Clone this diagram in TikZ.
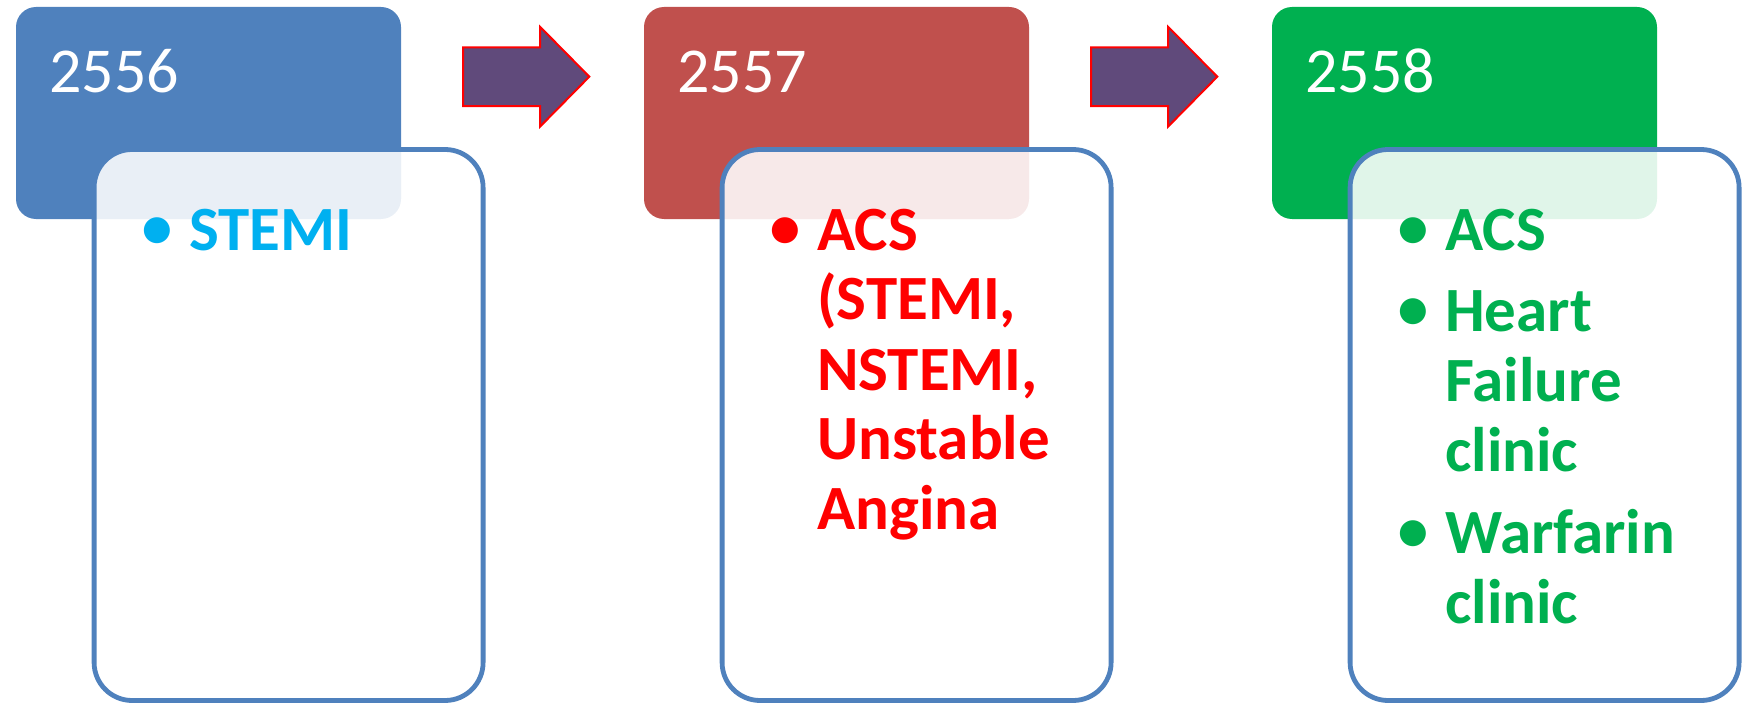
\documentclass[tikz,border=0pt]{standalone}
\usepackage{fontspec}
\setmainfont{Carlito}
\newfontfamily\bulletfont{DejaVu Sans}
\definecolor{hblue}{HTML}{4F81BD}
\definecolor{hred}{HTML}{C0504D}
\definecolor{hgreen}{HTML}{00B050}
\definecolor{arrowfill}{HTML}{604A7B}
\definecolor{tcyan}{HTML}{00B0F0}
\definecolor{tred}{HTML}{FF0000}
\definecolor{tgreen}{HTML}{00B050}
\begin{document}
\begin{tikzpicture}[x=1pt,y=-1pt,
  header/.style={rectangle, rounded corners=20pt, minimum width=385pt, minimum height=212pt, inner sep=0pt},
  panel/.style={rectangle, rounded corners=38pt, draw=hblue, line width=4.8pt, fill=white, fill opacity=0.88, draw opacity=1, minimum width=389pt, minimum height=551pt, inner sep=0pt},
  year/.style={anchor=base west, inner sep=0pt, text=white, font=\fontsize{64}{70}\selectfont},
  bul/.style={anchor=base, inner sep=0pt, font=\bulletfont\fontsize{34}{34}\selectfont},
  item/.style={anchor=base west, inner sep=0pt, font=\bfseries\fontsize{63}{70}\selectfont},
  blockarrow/.style={fill=arrowfill, draw=red, line width=2pt, line join=miter}
]
\useasboundingbox (0,0) rectangle (1749,706);

% headers
\node[header, fill=hblue]  (h1) at (208.5,113) {};
\node[header, fill=hred]   (h2) at (836.5,113) {};
\node[header, fill=hgreen] (h3) at (1464.5,113) {};

\node[year] (y1) at (49,93) {2556};
\node[year] (y2) at (677,93) {2557};
\node[year] (y3) at (1305,93) {2558};

% panels
\node[panel] (p1) at (288.6,425) {};
\node[panel] (p2) at (916.6,425) {};
\node[panel] (p3) at (1544.6,425) {};

% block arrows
\coordinate (a1) at (463,47.3);
\coordinate (a2) at (1091,47.3);
\foreach \a in {a1,a2}{
  \draw[blockarrow] (\a) -- ++(77,0) -- ++(0,-20.6) -- ++(49.3,50) -- ++(-49.3,50) -- ++(0,-20.6) -- ++(-77,0) -- cycle;
}

% box 1
\node[bul, text=tcyan] (b11) at (157,239) {●};
\node[item, text=tcyan] (t11) at (189,250) {STEMI};

% box 2
\node[bul, text=tred] (b21) at (785,239) {●};
\node[item, text=tred] (t21) at (817,250) {\parbox[t]{300pt}{\fontsize{63}{70}\selectfont ACS\\(STEMI,\\NSTEMI,\\Unstable\\Angina}};

% box 3
\node[bul, text=tgreen] (b31) at (1413,239) {●};
\node[item, text=tgreen] (t31) at (1445,250) {ACS};
\node[bul, text=tgreen] (b32) at (1413,320) {●};
\node[item, text=tgreen] (t32) at (1445,331) {\parbox[t]{300pt}{\fontsize{63}{70}\selectfont Heart\\Failure\\clinic}};
\node[bul, text=tgreen] (b33) at (1413,542) {●};
\node[item, text=tgreen] (t33) at (1445,553) {\parbox[t]{300pt}{\fontsize{63}{70}\selectfont Warfarin\\clinic}};
\end{tikzpicture}
\end{document}
